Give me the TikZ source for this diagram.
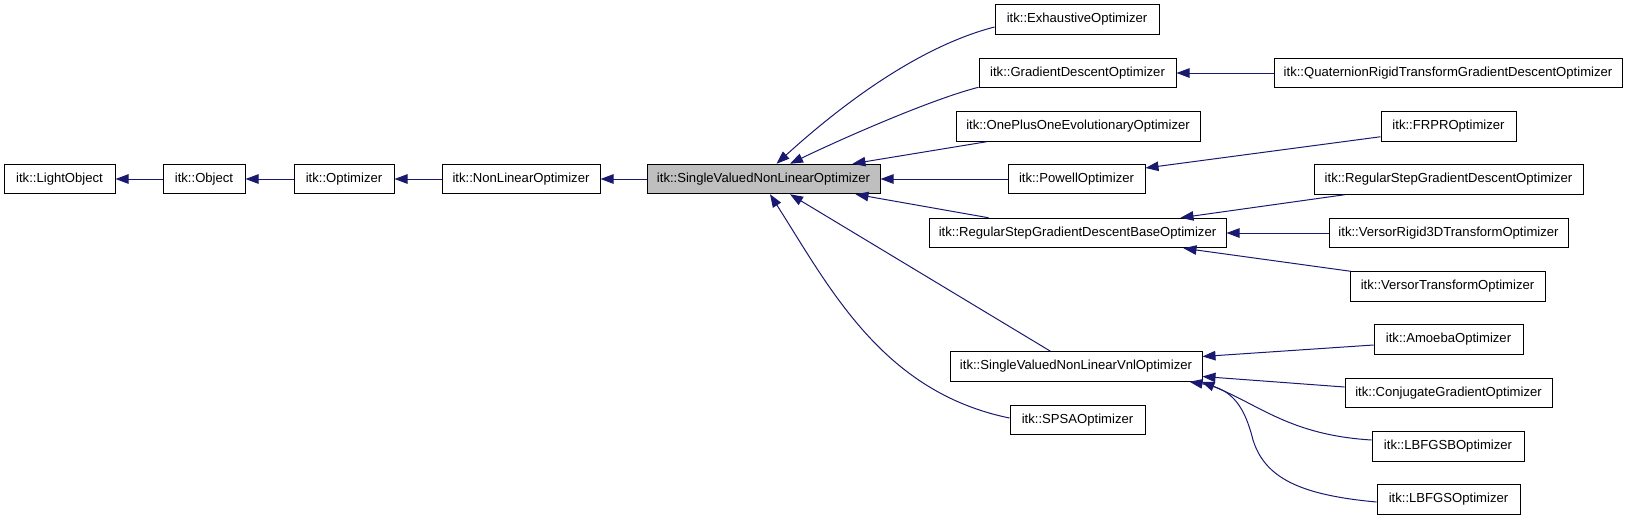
\documentclass[tikz,border=0pt]{standalone}
\usepackage{fontspec}
\setmainfont{Liberation Sans}
\usetikzlibrary{arrows.meta,calc}
\definecolor{edgeblue}{HTML}{191970}
\definecolor{boxgray}{HTML}{BFBFBF}
\tikzset{
  box/.style={draw=black, line width=1pt, minimum height=29.5pt, inner sep=0pt,
    font=\fontsize{13.1}{15}\selectfont, fill=white},
  focus/.style={box, fill=boxgray},
  edge/.style={draw=edgeblue, line width=1pt, -{Triangle[length=13pt,width=9.5pt]}}
}
\begin{document}
\begin{tikzpicture}[x=1pt,y=-1pt]
\useasboundingbox (0,0) rectangle (1627,520);
% nodes
\node[box, minimum width=111pt] (lo)    at (59.5,179)   {itk::LightObject};
\node[box, minimum width=82pt]  (obj)   at (204,179)    {itk::Object};
\node[box, minimum width=100pt] (opt)   at (344,179)    {itk::Optimizer};
\node[box, minimum width=158pt] (nlo)   at (521,179)    {itk::NonLinearOptimizer};
\node[focus, minimum width=233pt] (svnlo) at (763.5,179) {itk::SingleValuedNonLinearOptimizer};
\node[box, minimum width=164pt] (exh)   at (1077,19.5)    {itk::ExhaustiveOptimizer};
\node[box, minimum width=197pt] (gd)    at (1077.5,73)    {itk::GradientDescentOptimizer};
\node[box, minimum width=244pt] (opo)   at (1078,126.5)   {itk::OnePlusOneEvolutionaryOptimizer};
\node[box, minimum width=137pt] (pow)   at (1076.5,179) {itk::PowellOptimizer};
\node[box, minimum width=297pt] (rsgdb) at (1077.5,233)   {itk::RegularStepGradientDescentBaseOptimizer};
\node[box, minimum width=252pt] (svnlv) at (1076,366.5)     {itk::SingleValuedNonLinearVnlOptimizer};
\node[box, minimum width=135pt] (spsa)  at (1077.5,420)   {itk::SPSAOptimizer};
\node[box, minimum width=348pt] (quat)  at (1448,73)      {itk::QuaternionRigidTransformGradientDescentOptimizer};
\node[box, minimum width=135pt] (frpr)  at (1448.5,126.5) {itk::FRPROptimizer};
\node[box, minimum width=269pt] (rsgdo) at (1448.5,179.5) {itk::RegularStepGradientDescentOptimizer};
\node[box, minimum width=239pt] (vr3d)  at (1448.5,233)   {itk::VersorRigid3DTransformOptimizer};
\node[box, minimum width=195pt] (vt)    at (1447.5,286.5) {itk::VersorTransformOptimizer};
\node[box, minimum width=149pt] (amo)   at (1448.5,339.5) {itk::AmoebaOptimizer};
\node[box, minimum width=207pt] (cg)    at (1448.5,393)   {itk::ConjugateGradientOptimizer};
\node[box, minimum width=152pt] (lbb)   at (1448,446.5)   {itk::LBFGSBOptimizer};
\node[box, minimum width=143pt] (lbs)   at (1448.5,499.5) {itk::LBFGSOptimizer};
% edges (child -> parent)
\draw[edge] (obj.west) -- (lo.east);
\draw[edge] (opt.west) -- (obj.east);
\draw[edge] (nlo.west) -- (opt.east);
\draw[edge] (svnlo.west) -- (nlo.east);
\draw[edge] ($(exh.west)+(0,7.5)$) .. controls (917,47) and (839,107) .. ($(svnlo.north)+(13,0)$);
\draw[edge] ($(gd.south west)+(0,-1)$) .. controls (930.5,99.5) and (839,140) .. ($(svnlo.north)+(26.5,0)$);
\draw[edge] ($(opo.south west)+(31,0)$) -- ($(svnlo.north east)+(-28,0)$);
\draw[edge] (pow.west) -- (svnlo.east);
\draw[edge] ($(rsgdb.north west)+(60,0)$) -- ($(svnlo.south east)+(-25,0)$);
\draw[edge] ($(svnlv.north west)+(101,0)$) -- ($(svnlo.south)+(26.5,0)$);
\draw[edge] ($(spsa.west)+(0,-2)$) .. controls (882.6,392) and (830,288.5) .. ($(svnlo.south)+(6.5,0)$);
\draw[edge] (quat.west) -- (gd.east);
\draw[edge] ($(frpr.south west)+(0,-5)$) -- ($(pow.east)+(0,-11)$);
\draw[edge] ($(rsgdo.south west)+(31,0)$) -- ($(rsgdb.north east)+(-46,0)$);
\draw[edge] (vr3d.west) -- (rsgdb.east);
\draw[edge] ($(vt.north west)+(1,0)$) -- ($(rsgdb.south east)+(-43,0)$);
\draw[edge] ($(amo.west)+(0,5.5)$) -- ($(svnlv.east)+(0,-10)$);
\draw[edge] ($(cg.west)+(0,-6)$) -- ($(svnlv.east)+(0,10)$);
\draw[edge] ($(lbb.west)+(0,-6.5)$) .. controls (1290,435) and (1260,405) .. ($(svnlv.south east)+(-1,0)$);
\draw[edge] ($(lbs.west)+(0,2.5)$) .. controls (1300,495) and (1265,478) .. (1253,440) .. controls (1243,400) and (1228,388) .. ($(svnlv.south east)+(-13,0)$);
\end{tikzpicture}
\end{document}
